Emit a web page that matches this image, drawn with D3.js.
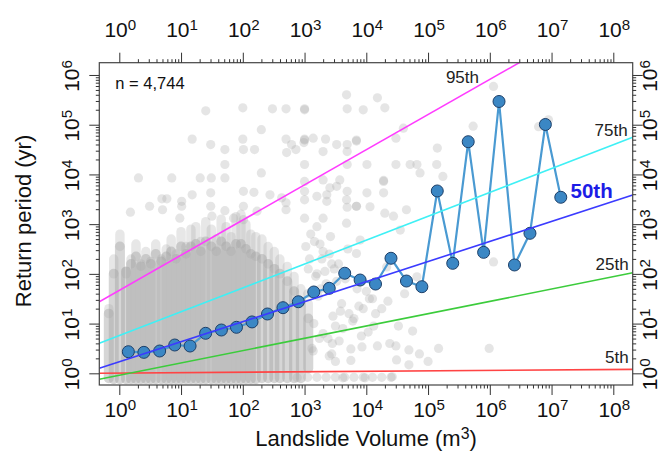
<!DOCTYPE html>
<html><head><meta charset="utf-8">
<script src="https://cdn.jsdelivr.net/npm/d3@7"></script>
<style>html,body{margin:0;padding:0;background:#fff;} svg{display:block;font-family:"Liberation Sans",Arial,Helvetica,sans-serif;}</style>
</head><body><svg id="c" width="664" height="461"></svg>
<script>
// ---------------- DATA ----------------
const xMajorTicks = [1e0,1e1,1e2,1e3,1e4,1e5,1e6,1e7,1e8];
const xTickExp = ["0","1","2","3","4","5","6","7","8"];
const yMajorTicks = [1e0,1e1,1e2,1e3,1e4,1e5,1e6];
const yTickExp = ["0","1","2","3","4","5","6"];

// median return period per volume bin (blue circles)
const medVol = [1.4,2.5,4.5,7.9,14,25,45,79,141,251,447,794,1410,2510,4470,7940,14100,25100,44700,79400,141000,251000,447000,794000,1410000,2510000,4470000,7940000,14100000];
const medT   = [2.72,2.64,2.81,3.71,3.54,6.38,7.43,8.42,10.8,15.6,20.9,27.5,43.2,51.2,103,75.2,62.5,206,71.8,55.2,4650,163,45500,271,293000,151,654,101000,3470];

// quantile regression lines: return period at V = 1 and at V = 1e8
const qLabel = ["5th","25th","50th","75th","95th"];
const qTat1   = [1.01, 0.911, 1.70, 5.73, 46.7];
const qTat1e8 = [1.195, 87.8, 2877, 39600, 2.11e7];
const qColor  = ["#ff4444","#3ccc3c","#3b3bff","#3ff0f5","#ff3cff"];

// dense columns of landslides (log10 volume; log10 return period: bottom, top of dense part, top of sparse part)
const colLogV   = [-0.17,-0.09,0.01,0.11,0.19,0.27,0.35,0.43,0.51,0.59,0.68,0.76,0.84,0.92,1.00,1.08,1.16,1.24,1.32,1.40,1.49,1.57,1.65,1.73,1.81,1.89,1.97,2.05,2.13,2.21,2.31,2.41,2.51,2.60,2.72,2.83,2.94,3.06];
const colLogBot = [-0.1,-0.12,-0.12,-0.12,-0.12,-0.12,-0.12,-0.12,-0.12,-0.12,-0.12,-0.12,-0.12,-0.12,-0.12,-0.12,-0.12,-0.12,-0.12,-0.12,-0.12,-0.12,-0.12,-0.12,-0.12,-0.12,-0.12,-0.12,-0.12,-0.12,-0.1,-0.1,-0.1,-0.1,-0.1,-0.1,-0.1,0.1];
const colLogMid = [1.2,2.0,2.55,2.05,2.2,2.35,2.15,2.3,2.2,2.4,2.25,2.35,2.45,2.3,2.55,2.4,2.55,2.6,2.45,2.65,2.55,2.45,2.65,2.55,2.45,2.6,2.6,2.5,2.4,2.35,2.3,2.2,2.1,2.0,1.85,1.65,1.45,1.1];
const colLogTop = [1.30,2.30,2.80,2.00,2.30,2.60,2.20,2.45,2.25,2.60,2.30,2.50,2.70,2.40,2.85,2.55,2.90,2.95,2.65,3.05,2.90,2.70,3.10,2.95,2.75,3.15,3.20,3.00,2.80,2.75,2.70,2.55,2.45,2.30,2.15,1.95,1.70,1.40];

// scattered individual landslides (log10 volume, log10 return period)
const ptLogV = [3.68,1.40,2.00,2.48,2.70,3.00,3.00,3.69,2.30,1.18,1.48,2.00,2.01,2.19,2.70,2.79,2.71,3.00,3.00,3.14,3.34,2.99,3.30,3.52,3.69,3.69,3.84,2.86,1.71,1.71,3.00,3.69,2.30,0.31,0.85,1.31,1.49,1.71,3.00,3.30,3.57,3.52,3.69,3.41,1.48,1.18,0.69,0.77,1.01,1.01,2.01,2.18,2.44,2.63,2.70,3.00,3.00,3.20,3.36,3.36,3.68,0.18,0.49,0.70,1.48,1.71,2.01,2.23,2.70,3.00,3.30,3.69,3.84,0.98,1.50,1.85,2.01,
  6.06,4.18,3.95,4.30,4.60,4.48,5.73,5.15,3.84,5.14,4.82,4.71,4.48,4.28,4.28,4.01,4.87,5.24,4.01,4.28,4.65,3.84,4.44,6.95,4.55,4.30,4.06,3.68,3.90,3.84,4.82,4.33,6.06,6.79,
  4.03,4.18,4.48,4.69,4.49,4.69,4.86,5.00,5.17,5.99,3.44,3.75,3.93,3.50,3.75,3.98,4.42,3.62,2.88,
  3.10,3.25,3.40,3.55,3.20,3.35,3.05,3.60,3.72,3.15,3.30,3.45,3.62,3.80,3.95,4.10,3.28,3.48,3.66,3.85,4.05,4.25,3.12,3.38,3.58,3.02,3.20,3.42,
  3.08,3.18,3.26,3.33,3.46,3.52,3.70,3.78,3.88,4.00,4.15,4.35,4.52,4.62,4.75,3.14,3.24,3.40,3.56,3.92,4.12,4.38,3.06,3.22,3.50,3.16,3.30,3.44,
  3.05,3.20,3.35,3.50,3.65,3.80,3.95,4.10,4.25,4.40];
const ptLogT = [5.60,5.28,5.34,5.32,5.32,5.32,5.30,5.32,4.90,4.71,4.60,4.71,4.50,4.50,4.71,4.60,4.44,4.71,4.69,4.73,4.71,4.64,4.46,4.60,4.60,4.46,4.67,4.50,4.50,4.20,4.20,4.20,4.03,3.93,3.93,3.93,3.93,3.93,3.86,3.89,3.89,3.76,3.66,3.73,3.63,3.59,3.51,3.51,3.46,3.36,3.66,3.64,3.59,3.53,3.43,3.66,3.49,3.56,3.59,3.46,3.49,3.24,3.36,3.29,3.36,3.27,3.36,3.26,3.29,3.12,3.12,3.34,3.36,3.12,3.16,3.12,3.09,
  5.77,5.54,5.30,5.34,4.93,4.73,4.97,4.53,4.69,4.20,4.20,4.20,4.20,3.88,3.86,4.20,4.03,3.96,3.63,3.63,3.29,3.36,3.16,5.10,2.88,3.22,3.35,3.02,2.68,2.41,1.94,2.14,2.24,4.96,
  0.83,0.55,0.55,0.47,0.27,0.17,0.39,0.24,0.50,0.50,0.39,0.49,0.53,0.24,0.26,-0.09,-0.07,-0.09,-0.09,
  2.80,2.60,2.40,2.20,2.00,1.80,1.60,1.40,1.20,1.00,0.80,0.60,0.90,1.10,1.30,1.50,2.30,2.10,1.90,1.70,1.50,1.30,0.50,0.70,1.25,2.55,2.95,2.75,
  2.30,1.95,1.70,2.05,1.15,1.85,2.50,1.05,1.35,1.65,1.20,1.45,0.95,1.60,0.85,0.45,0.70,0.35,0.65,0.75,0.95,0.60,2.10,1.55,0.95,2.65,2.45,2.20,
  -0.08,-0.08,-0.08,-0.08,-0.08,-0.08,-0.08,-0.08,-0.08,-0.08];

// ---------------- CHART ----------------
const svg = d3.select("#c");
const L = 99.3, R = 632.7, T = 62.7, B = 385;
const x = d3.scaleLog().domain([10**-0.324, 10**8.314]).range([L, R]);
const y = d3.scaleLog().domain([10**-0.235, 10**6.247]).range([B, T]);

svg.append("defs").append("clipPath").attr("id","clip")
  .append("rect").attr("x",L).attr("y",T).attr("width",R-L).attr("height",B-T);
const plot = svg.append("g").attr("clip-path","url(#clip)");

// dense columns: sparse upper part, then dense lower part
plot.append("g").selectAll("line").data(colLogV).join("line")
  .attr("x1",(d)=>x(10**d)).attr("x2",(d)=>x(10**d))
  .attr("y1",(d,i)=>y(10**colLogMid[i])).attr("y2",(d,i)=>y(10**colLogTop[i]))
  .attr("stroke","#a8a8a8").attr("stroke-opacity",0.28).attr("stroke-width",9.4).attr("stroke-linecap","round");
plot.append("g").selectAll("line").data(colLogV).join("line")
  .attr("x1",(d)=>x(10**d)).attr("x2",(d)=>x(10**d))
  .attr("y1",(d,i)=>y(10**colLogBot[i])).attr("y2",(d,i)=>y(10**colLogMid[i]))
  .attr("stroke","#a4a4a4").attr("stroke-opacity",0.45).attr("stroke-width",10).attr("stroke-linecap","round");

// scattered points
plot.append("g").selectAll("circle").data(ptLogV).join("circle")
  .attr("cx",(d)=>x(10**d)).attr("cy",(d,i)=>y(10**ptLogT[i])).attr("r",4.6)
  .attr("fill","#a8a8a8").attr("fill-opacity",0.3);

// median line + circles
const med = medVol.map((v,i)=>({v, t: medT[i]}));
plot.append("path").datum(med)
  .attr("d", d3.line().x(d=>x(d.v)).y(d=>y(d.t)))
  .attr("fill","none").attr("stroke","#4a9ad2").attr("stroke-width",2.2);
plot.append("g").selectAll("circle").data(med).join("circle")
  .attr("cx",d=>x(d.v)).attr("cy",d=>y(d.t)).attr("r",6)
  .attr("fill","#3b87c4").attr("stroke","#1d3f68").attr("stroke-width",1);

// quantile lines
const [d0,d1] = x.domain();
qLabel.forEach((lab,i)=>{
  const s = Math.log10(qTat1e8[i]/qTat1[i]) / 8;
  const tAt = v => qTat1[i] * Math.pow(v, s);
  plot.append("line")
    .attr("x1",x(d0)).attr("y1",y(tAt(d0)))
    .attr("x2",x(d1)).attr("y2",y(tAt(d1)))
    .attr("stroke",qColor[i]).attr("stroke-width",1.6);
});

// box
svg.append("rect").attr("x",L).attr("y",T).attr("width",R-L).attr("height",B-T)
  .attr("fill","none").attr("stroke","#444").attr("stroke-width",1.2);

// minor ticks
function minors(lo,hi){const a=[];for(let e=lo;e<hi;e++)for(let m=2;m<=9;m++)a.push(m*10**e);return a;}
const xMinor = minors(0,8), yMinor = minors(0,6);

function styleAxis(g){g.select(".domain").remove();g.selectAll("line").attr("stroke","#333").attr("stroke-width",1);}
svg.append("g").attr("transform",`translate(0,${B})`).call(d3.axisBottom(x).tickValues(xMajorTicks).tickSize(10).tickFormat("")).call(styleAxis);
svg.append("g").attr("transform",`translate(0,${B})`).call(d3.axisBottom(x).tickValues(xMinor).tickSize(3.5).tickFormat("")).call(styleAxis);
svg.append("g").attr("transform",`translate(0,${T})`).call(d3.axisTop(x).tickValues(xMajorTicks).tickSize(10).tickFormat("")).call(styleAxis);
svg.append("g").attr("transform",`translate(0,${T})`).call(d3.axisTop(x).tickValues(xMinor).tickSize(3.5).tickFormat("")).call(styleAxis);
svg.append("g").attr("transform",`translate(${L},0)`).call(d3.axisLeft(y).tickValues(yMajorTicks).tickSize(10).tickFormat("")).call(styleAxis);
svg.append("g").attr("transform",`translate(${L},0)`).call(d3.axisLeft(y).tickValues(yMinor).tickSize(3.5).tickFormat("")).call(styleAxis);
svg.append("g").attr("transform",`translate(${R},0)`).call(d3.axisRight(y).tickValues(yMajorTicks).tickSize(10).tickFormat("")).call(styleAxis);
svg.append("g").attr("transform",`translate(${R},0)`).call(d3.axisRight(y).tickValues(yMinor).tickSize(3.5).tickFormat("")).call(styleAxis);

// tick labels with superscripts
function powLabel(sel, exp){
  sel.append("tspan").text("10");
  sel.append("tspan").attr("dy","-0.45em").attr("font-size","0.72em").text(exp);
}
const fs = 21;
xMajorTicks.forEach((v,i)=>{
  [37, 417].forEach(by=>{
    const t = svg.append("text").attr("x",x(v)+1).attr("y",by).attr("text-anchor","middle")
      .attr("font-size",fs).attr("fill","#111");
    powLabel(t, xTickExp[i]);
  });
});
yMajorTicks.forEach((v,i)=>{
  [79, 657].forEach(bx=>{
    const t = svg.append("text").attr("transform",`translate(${bx},${y(v)+1}) rotate(-90)`)
      .attr("text-anchor","middle").attr("font-size",fs).attr("fill","#111");
    powLabel(t, yTickExp[i]);
  });
});

// axis titles
const xt = svg.append("text").attr("x",366).attr("y",446).attr("text-anchor","middle").attr("font-size",22).attr("fill","#111");
xt.append("tspan").text("Landslide Volume (m");
xt.append("tspan").attr("dy","-0.45em").attr("font-size","0.72em").text("3");
xt.append("tspan").attr("dy","0.32em").text(")");
svg.append("text").attr("transform","translate(31,221) rotate(-90)").attr("text-anchor","middle")
  .attr("font-size",22).attr("fill","#111").text("Return period (yr)");

// annotations
svg.append("text").attr("x",L+16).attr("y",89).attr("font-size",16.5).attr("fill","#111").text("n = 4,744");
const labPos = [[R-4,363,"end"],[R-4,270,"end"],[R-20,198,"end"],[R-5,136,"end"],[479,83,"end"]];
qLabel.forEach((lab,i)=>{
  const isMed = lab==="50th";
  svg.append("text").attr("x",labPos[i][0]).attr("y",labPos[i][1]).attr("text-anchor",labPos[i][2])
    .attr("font-size", isMed?20.5:17).attr("font-weight", isMed?"bold":"normal")
    .attr("fill", isMed?"#1c1ce6":"#222").text(lab);
});
</script></body></html>
